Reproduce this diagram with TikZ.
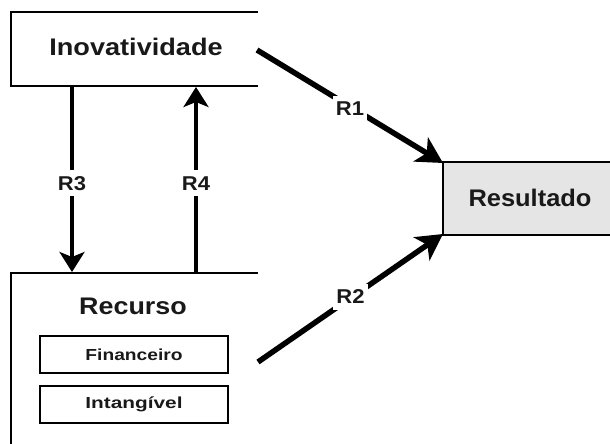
\documentclass[tikz,border=0pt]{standalone}
\usepackage{fontspec}
\setmainfont{Liberation Sans}
\usetikzlibrary{arrows.meta}
\newcommand\sx[3]{\scalebox{#1}[1]{\fontsize{#2}{#2}\selectfont\bfseries #3}}
\begin{document}
\begin{tikzpicture}[x=1pt,y=-1pt,
  boxline/.style={line width=2.2pt,line cap=rect},
  smallbox/.style={draw,line width=1.6pt,minimum width=188pt,minimum height=37pt,inner sep=0pt},
  txt/.style={inner sep=0pt,text=black!90},
  lab/.style={fill=white,inner xsep=3pt,inner ysep=6pt,text=black!90},
  varrow/.style={line width=3.8pt,-{Stealth[length=20pt,width=25pt,inset=5pt]}},
  darrow/.style={line width=5.5pt,-{Stealth[length=26pt,width=28pt,inset=7pt]}}]
\useasboundingbox (0,0) rectangle (610,444);
% Inovatividade box (cut at right)
\draw[boxline] (257,12) -- (11,12) -- (11,86) -- (257,86);
\node[txt] (ino) at (136,47) {\sx{1.13}{24pt}{Inovatividade}};
% Recurso box (cut)
\draw[boxline] (257,273) -- (11,273) -- (11,446);
\node[txt] (rec) at (133,306) {\sx{1.12}{24pt}{Recurso}};
\node[smallbox,txt] (fin) at (134,354.5) {\sx{1.2}{16pt}{Financeiro}};
\node[smallbox,txt] (int) at (134,404.5) {\sx{1.3}{16pt}{Intangível}};
% Resultado box
\fill[black!10] (443,162) rectangle (612,235);
\draw[boxline] (612,162) -- (443,162) -- (443,235) -- (612,235);
\node[txt] (res) at (530,198) {\sx{1.06}{24pt}{Resultado}};
% coordinates
\coordinate (r3s) at (72,87);
\coordinate (r3e) at (72,272);
\coordinate (r4s) at (196,272);
\coordinate (r4e) at (196,87);
\coordinate (r1s) at (257,50);
\coordinate (r1e) at (443,163);
\coordinate (r2s) at (258,362);
\coordinate (r2e) at (443,234);
% arrows
\draw[varrow] (r3s) -- (r3e) node[lab,pos=0.52] (l3) {\sx{1.1}{20pt}{R3}};
\draw[varrow] (r4s) -- (r4e) node[lab,pos=0.48] (l4) {\sx{1.1}{20pt}{R4}};
\draw[darrow] (r1s) -- (r1e) node[lab,pos=0.5,yshift=-2pt] (l1) {\sx{1.1}{20pt}{R1}};
\draw[darrow] (r2s) -- (r2e) node[lab,pos=0.5,yshift=1pt] (l2) {\sx{1.1}{20pt}{R2}};
\end{tikzpicture}
\end{document}
